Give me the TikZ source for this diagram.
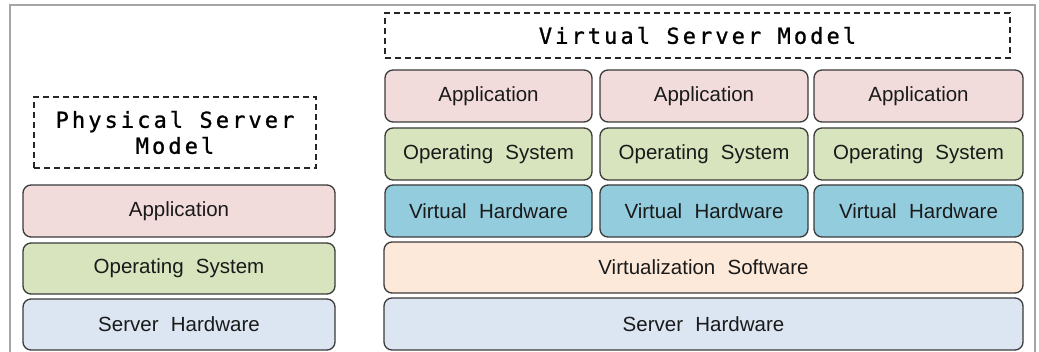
\documentclass[tikz,border=0pt]{standalone}
\usepackage{fontspec}
\setmainfont{Liberation Sans}
\newfontfamily\titlefont[LetterSpace=14,FakeBold=1]{DejaVu Sans Mono}
\definecolor{appc}{HTML}{F2DCDB}
\definecolor{osc}{HTML}{D7E4BD}
\definecolor{vhc}{HTML}{93CDDD}
\definecolor{vsc}{HTML}{FDE9D9}
\definecolor{shc}{HTML}{DCE6F2}
\definecolor{edgec}{HTML}{3A3A3A}
\definecolor{framec}{HTML}{A6A6A6}
\definecolor{textc}{HTML}{1A1A1A}
\newcommand{\wsp}{\hspace{0.6em}}
\begin{document}
\begin{tikzpicture}[x=1pt,y=-1pt,
  layer/.style={draw=edgec, line width=1.3pt, rounded corners=8pt, inner sep=0pt,
    font=\fontsize{20.5}{24}\selectfont, text=textc},
  titlebox/.style={draw=black!85, line width=1.3pt, dash pattern=on 6pt off 4pt, inner sep=0pt,
    font=\titlefont\fontsize{22}{26}\selectfont, text=black, align=center}]
\useasboundingbox (0,0) rectangle (1039,352);
% outer frame
\draw[framec, line width=2pt] (10,360) -- (10,5) -- (1035,5) -- (1035,360);
% physical model
\node[titlebox, minimum width=282pt, minimum height=71pt] (ptitle) at (175,132.5) {Physical Server\\Model};
\node[layer, fill=appc, minimum width=312pt, minimum height=52pt] (papp) at (179,211) {Application};
\node[layer, fill=osc, minimum width=312pt, minimum height=51pt] (pos) at (179,268.5) {Operating\wsp System};
\node[layer, fill=shc, minimum width=312pt, minimum height=51pt] (psh) at (179,324.5) {Server\wsp Hardware};
% virtual model
\node[titlebox, minimum width=625pt, minimum height=45pt] (vtitle) at (697.5,35.5) {Virtual Server Model};
\foreach \c/\cx/\w in {1/488.5/207, 2/704/208, 3/918.5/209}{
  \node[layer, fill=appc, minimum width=\w pt, minimum height=52pt] (vapp\c) at (\cx,96) {Application};
  \node[layer, fill=osc, minimum width=\w pt, minimum height=52pt] (vos\c) at (\cx,154) {Operating\wsp System};
  \node[layer, fill=vhc, minimum width=\w pt, minimum height=52pt] (vhw\c) at (\cx,211) {Virtual\wsp Hardware};
}
\node[layer, fill=vsc, minimum width=639pt, minimum height=51pt] (vsw) at (703.5,267.5) {Virtualization\wsp Software};
\node[layer, fill=shc, minimum width=639pt, minimum height=52pt] (vsh) at (703.5,324) {Server\wsp Hardware};
\end{tikzpicture}
\end{document}
